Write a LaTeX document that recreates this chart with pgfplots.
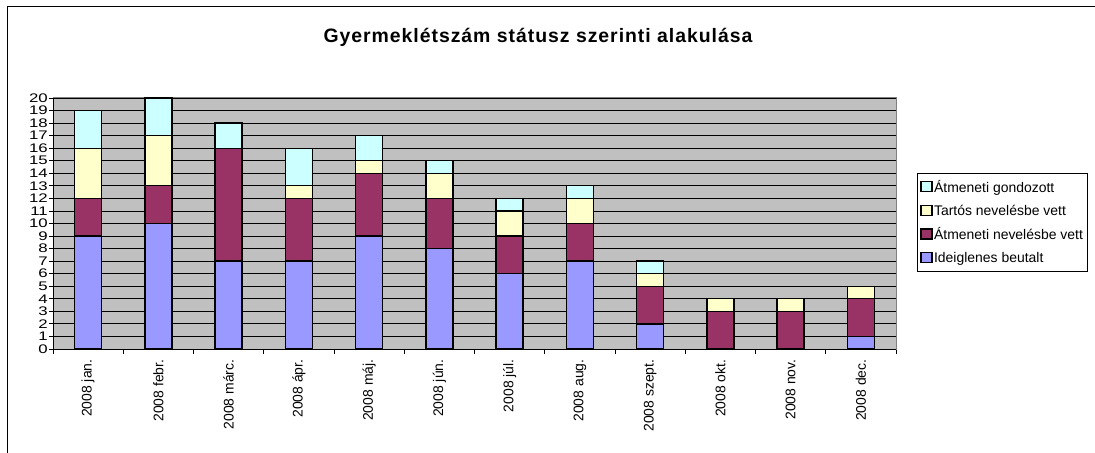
\documentclass[border=0pt]{standalone}
\usepackage{pgfplots}
\usepackage{pgfplotstable}
\pgfplotsset{compat=1.18}
\usepackage{fontspec}
\setmainfont{Liberation Sans}
\newfontfamily\titlefont[LetterSpace=5]{Liberation Sans}
\newfontfamily\ylabfont[FakeStretch=1.35]{Liberation Sans}
\definecolor{cIg}{HTML}{9999FF}
\definecolor{cAn}{HTML}{993366}
\definecolor{cTa}{HTML}{FFFFCC}
\definecolor{cAg}{HTML}{CCFFFF}
\definecolor{cBg}{HTML}{C0C0C0}
\pgfplotstableread{
x ig atn tar atg
0 9 3 4 3
1 10 3 4 3
2 7 9 0 2
3 7 5 1 3
4 9 5 1 2
5 8 4 2 1
6 6 3 2 1
7 7 3 2 1
8 2 3 1 1
9 0 3 1 0
10 0 3 1 0
11 1 3 1 0
}\data
\begin{document}
\begin{tikzpicture}
\useasboundingbox (0bp,0bp) rectangle (1095bp,453bp);
\draw[black, line width=1bp] (7bp,-10bp) -- (7bp,446bp) -- (1110bp,446bp);
\node[font=\titlefont\bfseries\fontsize{19.5}{21}\selectfont] at (538bp,416bp) {Gyermeklétszám státusz szerinti alakulása};
\begin{axis}[
  at={(53bp,104bp)}, anchor=south west,
  scale only axis, width=843bp, height=251bp,
  ybar stacked, bar width=27bp,
  xmin=-0.5, xmax=11.5, ymin=0, ymax=20,
  xtick={0,...,11},
  xticklabels={2008 jan.,2008 febr.,2008 márc.,2008 ápr.,2008 máj.,2008 jún.,2008 júl.,2008 aug.,2008 szept.,2008 okt.,2008 nov.,2008 dec.},
  xtick pos=bottom, ytick pos=left,
  major x tick style={draw=none},
  minor xtick={-0.5,0.5,...,11.5},
  minor x tick style={black, line width=0.8bp},
  minor tick length=5bp,
  ytick={0,1,...,20},
  major y tick style={black, line width=0.8bp},
  major tick length=4bp,
  tick align=outside,
  ymajorgrids, major grid style={black, line width=0.8bp},
  axis background/.style={fill=cBg},
  axis line style={draw=gray, line width=1bp},
  x tick label style={rotate=90, anchor=east, font=\fontsize{14}{15}\selectfont},
  y tick label style={font=\ylabfont\fontsize{12.5}{12}\selectfont, inner sep=1bp},
  xticklabel shift=3bp,
  /pgf/number format/assume math mode=true,
  legend style={at={(1.0249,0.701)}, anchor=north west, draw=black, line width=0.6bp, fill=white,
    font=\fontsize{14}{15}\selectfont, row sep=7bp, inner xsep=3bp, inner ysep=5bp,
    nodes={inner xsep=1.5bp}},
  legend cell align=left,
  reverse legend,
  legend image code/.code={\draw[#1, line width=1.3bp] (0bp,-4.5bp) rectangle (11bp,5.5bp);},
  every axis plot/.append style={draw=black, line width=1.3bp},
]
\addplot[fill=cIg] table[x=x,y=ig]{\data};
\addplot[fill=cAn] table[x=x,y=atn]{\data};
\addplot[fill=cTa] table[x=x,y=tar]{\data};
\addplot[fill=cAg] table[x=x,y=atg]{\data};
\legend{Ideiglenes beutalt,Átmeneti nevelésbe vett,Tartós nevelésbe vett,Átmeneti gondozott}
\draw[black, line width=1bp] (rel axis cs:0,1) -- (rel axis cs:0,0) -- (rel axis cs:1,0);
\end{axis}
\end{tikzpicture}
\end{document}
